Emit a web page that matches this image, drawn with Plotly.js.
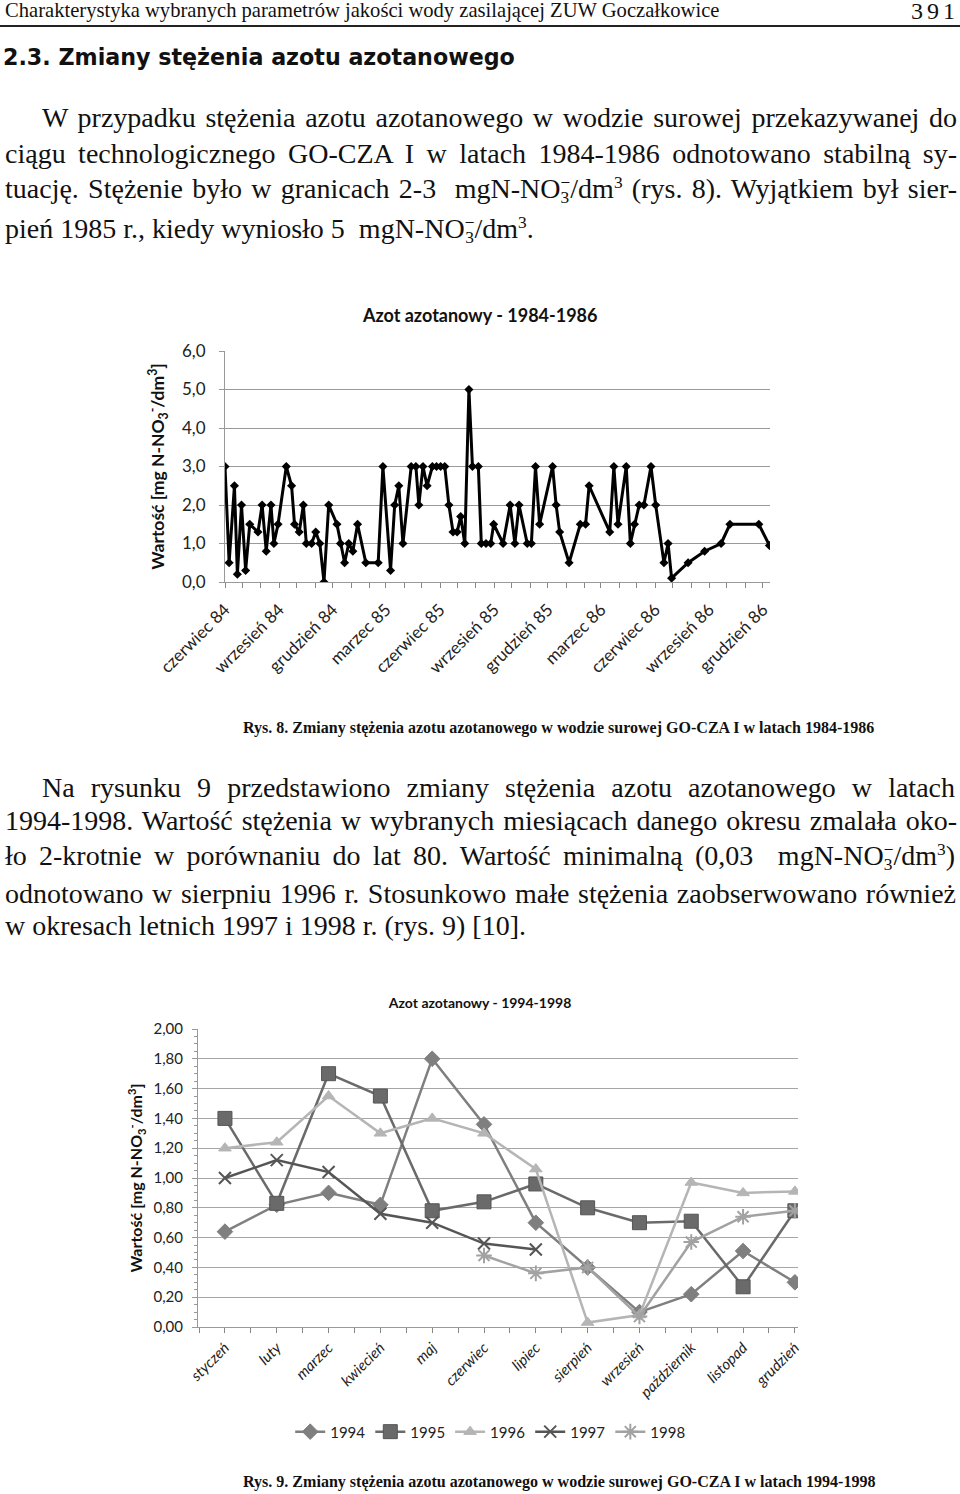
<!DOCTYPE html>
<html lang="pl">
<head>
<meta charset="utf-8">
<script src="https://cdn.plot.ly/plotly-3.0.1.min.js"></script>
<style>
  html, body { margin: 0; padding: 0; background: #fff; }
  body {
    width: 960px; height: 1494px; position: relative; overflow: hidden;
    font-family: "Liberation Serif", "Times New Roman", serif; color: #111;
  }
  .ln { position: absolute; top: 0; white-space: nowrap; line-height: 1; }
  .just { white-space: normal; text-align: justify; text-align-last: justify; }
  .txt { font-size: 28px; }
  .bl { display: inline-block; width: 0; height: 0; }
  .ion {
    display: inline-block; vertical-align: -0.3em; font-size: 0.62em;
    line-height: 0.85em; text-align: center;
  }
  sup { font-size: 0.62em; vertical-align: 0.55em; line-height: 0; }
  .cap { font-weight: bold; font-size: 16px; }
  .sect { font-family: "DejaVu Sans", sans-serif; font-weight: bold; font-size: 20px; }
  #rule { position: absolute; left: 0; top: 25px; width: 960px; height: 1.5px; background: #222; }
  .chart { position: absolute; }
</style>
</head>
<body>

<div class="ln" style="left:5px;font-size:18px" data-b="17" data-w="715"><i class="bl"></i>Charakterystyka wybranych parametrów jakości wody zasilającej ZUW Goczałkowice</div>
<div class="ln" style="right:1px;left:auto;font-size:24px;letter-spacing:4px" data-b="19"><i class="bl"></i>391</div>
<div id="rule"></div>

<div class="ln sect" style="left:3px" data-b="65" data-w="512"><i class="bl"></i>2.3. Zmiany stężenia azotu azotanowego</div>

<div class="ln txt just" style="left:42px;width:915px" data-b="127"><i class="bl"></i>W przypadku stężenia azotu azotanowego w wodzie surowej przekazywanej do</div>
<div class="ln txt just" style="left:5px;width:952px" data-b="163"><i class="bl"></i>ciągu technologicznego GO-CZA I w latach 1984-1986 odnotowano stabilną sy-</div>
<div class="ln txt just" style="left:5px;width:952px" data-b="198"><i class="bl"></i>tuację. Stężenie było w granicach 2-3&nbsp; mgN-NO<span class="ion">−<br>3</span>/dm<sup>3</sup> (rys. 8). Wyjątkiem był sier-</div>
<div class="ln txt" style="left:5px" data-b="238"><i class="bl"></i>pień 1985 r., kiedy wyniosło 5&nbsp; mgN-NO<span class="ion">−<br>3</span>/dm<sup>3</sup>.</div>

<div id="chart8486" class="chart" style="left:130px;top:295px;width:680px;height:410px"></div>

<div class="ln cap" style="left:243px" data-b="733" data-w="632"><i class="bl"></i>Rys. 8. Zmiany stężenia azotu azotanowego w wodzie surowej GO-CZA I w latach 1984-1986</div>

<div class="ln txt just" style="left:42px;width:913px" data-b="797"><i class="bl"></i>Na rysunku 9 przedstawiono zmiany stężenia azotu azotanowego w latach</div>
<div class="ln txt just" style="left:5px;width:952px" data-b="830"><i class="bl"></i>1994-1998. Wartość stężenia w wybranych miesiącach danego okresu zmalała oko-</div>
<div class="ln txt just" style="left:5px;width:950px" data-b="865"><i class="bl"></i>ło 2-krotnie w porównaniu do lat 80. Wartość minimalną (0,03&nbsp; mgN-NO<span class="ion">−<br>3</span>/dm<sup>3</sup>)</div>
<div class="ln txt just" style="left:5px;width:951px" data-b="903"><i class="bl"></i>odnotowano w sierpniu 1996 r. Stosunkowo małe stężenia zaobserwowano również</div>
<div class="ln txt" style="left:5px" data-b="935"><i class="bl"></i>w okresach letnich 1997 i 1998 r. (rys. 9) [10].</div>

<div id="chart9498" class="chart" style="left:110px;top:985px;width:720px;height:475px"></div>

<div class="ln cap" style="left:243px" data-b="1487" data-w="633"><i class="bl"></i>Rys. 9. Zmiany stężenia azotu azotanowego w wodzie surowej GO-CZA I w latach 1994-1998</div>

<script>
// --- rys. 8: pomiary 1984-1986 ---
const dates8486 = [
  '1984-06-01', '1984-06-08', '1984-06-17', '1984-06-22', '1984-06-29', '1984-07-06',
  '1984-07-13', '1984-07-27', '1984-08-03', '1984-08-10', '1984-08-18', '1984-08-23',
  '1984-08-30', '1984-09-13', '1984-09-22', '1984-09-27', '1984-10-05', '1984-10-12',
  '1984-10-17', '1984-10-26', '1984-11-02', '1984-11-09', '1984-11-16', '1984-11-24',
  '1984-12-08', '1984-12-14', '1984-12-21', '1984-12-28', '1985-01-04', '1985-01-12',
  '1985-01-26', '1985-02-16', '1985-02-24', '1985-03-09', '1985-03-16', '1985-03-23',
  '1985-03-30', '1985-04-13', '1985-04-21', '1985-04-26', '1985-05-03', '1985-05-10',
  '1985-05-19', '1985-05-26', '1985-06-02', '1985-06-09', '1985-06-16', '1985-06-23',
  '1985-06-30', '1985-07-06', '1985-07-13', '1985-07-20', '1985-07-26', '1985-08-05',
  '1985-08-10', '1985-08-18', '1985-08-26', '1985-08-31', '1985-09-16', '1985-09-28',
  '1985-10-06', '1985-10-13', '1985-10-27', '1985-11-03', '1985-11-10', '1985-11-17',
  '1985-12-09', '1985-12-15', '1985-12-21', '1986-01-06', '1986-01-25', '1986-02-03',
  '1986-02-09', '1986-03-16', '1986-03-23', '1986-03-30', '1986-04-13', '1986-04-20',
  '1986-04-27', '1986-05-05', '1986-05-13', '1986-05-25', '1986-06-02', '1986-06-16',
  '1986-06-23', '1986-06-29', '1986-07-27', '1986-08-24', '1986-09-21', '1986-10-06',
  '1986-11-24', '1986-12-12'
];
const no3_8486 = [
  3.0, 0.5, 2.5, 0.2, 2.0, 0.3,
  1.5, 1.3, 2.0, 0.8, 2.0, 1.0,
  1.5, 3.0, 2.5, 1.5, 1.3, 2.0,
  1.0, 1.0, 1.3, 1.0, 0.0, 2.0,
  1.5, 1.0, 0.5, 1.0, 0.8, 1.5,
  0.5, 0.5, 3.0, 0.3, 2.0, 2.5,
  1.0, 3.0, 3.0, 2.0, 3.0, 2.5,
  3.0, 3.0, 3.0, 3.0, 2.0, 1.3,
  1.3, 1.7, 1.0, 5.0, 3.0, 3.0,
  1.0, 1.0, 1.0, 1.5, 1.0, 2.0,
  1.0, 2.0, 1.0, 1.0, 3.0, 1.5,
  3.0, 2.0, 1.3, 0.5, 1.5, 1.5,
  2.5, 1.3, 3.0, 1.5, 3.0, 1.0,
  1.5, 2.0, 2.0, 3.0, 2.0, 0.5,
  1.0, 0.1, 0.5, 0.8, 1.0, 1.5,
  1.5, 0.95
];
const tickDates8486 = [
  '1984-06-01', '1984-09-01', '1984-12-01', '1985-03-01', '1985-06-01', '1985-09-01',
  '1985-12-01', '1986-03-01', '1986-06-01', '1986-09-01', '1986-12-01'
];
const tickNames8486 = [
  'czerwiec 84', 'wrzesień 84', 'grudzień 84', 'marzec 85', 'czerwiec 85', 'wrzesień 85',
  'grudzień 85', 'marzec 86', 'czerwiec 86', 'wrzesień 86', 'grudzień 86'
];

// --- rys. 9: średnie miesięczne 1994-1998 ---
const months = ['styczeń', 'luty', 'marzec', 'kwiecień', 'maj', 'czerwiec', 'lipiec',
  'sierpień', 'wrzesień', 'październik', 'listopad', 'grudzień'];
const years = ['1994', '1995', '1996', '1997', '1998'];
const y1994 = [0.64, 0.82, 0.90, 0.82, 1.80, 1.36, 0.70, 0.40, 0.10, 0.22, 0.51, 0.30];
const y1995 = [1.40, 0.83, 1.70, 1.55, 0.78, 0.84, 0.96, 0.80, 0.70, 0.71, 0.27, 0.78];
const y1996 = [1.20, 1.24, 1.55, 1.30, 1.40, 1.30, 1.06, 0.03, 0.08, 0.97, 0.90, 0.91];
const y1997 = [1.00, 1.12, 1.04, 0.76, 0.70, 0.56, 0.52, null, null, null, null, null];
const y1998 = [null, null, null, null, null, 0.48, 0.36, 0.40, 0.07, 0.57, 0.74, 0.78];

const yTitle = '<b>Wartość [mg N-NO<sub>3</sub><sup>-</sup>/dm<sup>3</sup>]</b>';
const chartFont = 'Lato, "Open Sans", sans-serif';

function drawChart8486() {
  const trace = {
    x: dates8486,
    y: no3_8486,
    type: 'scatter',
    mode: 'lines+markers',
    line: { color: '#000', width: 3 },
    marker: { symbol: 'diamond', size: 7, color: '#000' },
    showlegend: false,
  };
  const layout = {
    width: 680,
    height: 410,
    margin: { l: 95, r: 40, t: 56, b: 123 },
    paper_bgcolor: '#fff',
    plot_bgcolor: '#fff',
    separators: ', ',
    font: { family: chartFont, color: '#222', size: 15 },
    title: {
      text: '<b>Azot azotanowy - 1984-1986</b>',
      font: { size: 18, color: '#111' },
      x: 0.515, xref: 'container', xanchor: 'center',
      y: 0.949, yref: 'container', yanchor: 'middle',
    },
    xaxis: {
      type: 'date',
      range: ['1984-06-01', '1986-12-13'],
      tickmode: 'array',
      tickvals: tickDates8486,
      ticktext: tickNames8486,
      tickangle: -45,
      ticks: 'outside',
      ticklen: 5,
      tickcolor: '#888',
      ticklabelstandoff: 5,
      tickfont: { size: 17 },
      showgrid: false,
      showline: true,
      linecolor: '#999',
      zeroline: false,
      minor: { dtick: 'M1', tick0: '1984-06-01', ticks: 'outside', ticklen: 5, tickcolor: '#888', showgrid: false },
    },
    yaxis: {
      range: [0, 6],
      dtick: 1,
      tickformat: '.1f',
      ticks: 'outside',
      ticklen: 5,
      tickcolor: '#999',
      ticklabelstandoff: 10,
      tickfont: { size: 17 },
      showgrid: true,
      gridcolor: '#9a9a9a',
      showline: true,
      linecolor: '#999',
      zeroline: false,
      title: { text: yTitle, font: { size: 17.5, color: '#111' }, standoff: 12 },
    },
  };
  Plotly.newPlot('chart8486', [trace], layout, { staticPlot: true, displayModeBar: false });
}

function drawChart9498() {
  const series = [y1994, y1995, y1996, y1997, y1998];
  const colors = ['#7f7f7f', '#6a6a6a', '#b5b5b5', '#555555', '#a2a2a2'];
  const symbols = ['diamond', 'square', 'triangle-up', 'x-thin', 'asterisk'];
  const sizes = [12, 14, 11, 12, 13];
  const xs = months.map((m, i) => i);

  const traces = series.map((ys, k) => ({
    x: xs,
    y: ys,
    name: years[k],
    type: 'scatter',
    mode: 'lines+markers',
    line: { color: colors[k], width: 2.5 },
    marker: {
      symbol: symbols[k],
      size: sizes[k],
      color: colors[k],
      line: { color: k === 1 ? '#555' : colors[k], width: (k >= 3) ? 2 : 1 },
    },
  }));

  const layout = {
    width: 720,
    height: 475,
    margin: { l: 88, r: 32, t: 44, b: 133 },
    paper_bgcolor: '#fff',
    plot_bgcolor: '#fff',
    separators: ', ',
    font: { family: chartFont, color: '#222', size: 14 },
    title: {
      text: '<b>Azot azotanowy - 1994-1998</b>',
      font: { size: 14, color: '#111' },
      x: 0.514, xref: 'container', xanchor: 'center',
      y: 0.962, yref: 'container', yanchor: 'middle',
    },
    showlegend: true,
    legend: {
      orientation: 'h',
      x: 0.487, xanchor: 'center',
      y: -0.352, yanchor: 'middle',
      font: { size: 15 },
      itemwidth: 30,
      tracegroupgap: 0,
    },
    xaxis: {
      range: [-0.52, 11.06],
      tickmode: 'array',
      tickvals: xs,
      ticktext: months,
      tickangle: -45,
      ticks: 'outside',
      ticklen: 5,
      tickcolor: '#888',
      tickfont: { size: 15, style: 'italic' },
      showgrid: false,
      showline: true,
      linecolor: '#999',
      zeroline: false,
      minor: { dtick: 0.5, tick0: -0.5, ticks: 'outside', ticklen: 5, tickcolor: '#888', showgrid: false },
    },
    yaxis: {
      range: [0, 2],
      dtick: 0.2,
      tickformat: '.2f',
      ticks: 'outside',
      ticklen: 5,
      tickcolor: '#999',
      ticklabelstandoff: 6,
      tickfont: { size: 15 },
      showgrid: true,
      gridcolor: '#a6a6a6',
      showline: true,
      linecolor: '#999',
      zeroline: false,
      minor: { dtick: 0.05, ticks: 'outside', ticklen: 3, tickcolor: '#999', showgrid: false },
      title: { text: yTitle, font: { size: 16, color: '#111' }, standoff: 6 },
    },
  };
  Plotly.newPlot('chart9498', traces, layout, { staticPlot: true, displayModeBar: false });
}

// fit widths of single text lines and move each one onto its baseline
function placeLines() {
  document.querySelectorAll('.ln').forEach(el => {
    if (el.dataset.w) {
      const fs = parseFloat(getComputedStyle(el).fontSize);
      const w = el.getBoundingClientRect().width;
      el.style.fontSize = (fs * Number(el.dataset.w) / w) + 'px';
    }
    const mark = el.querySelector('.bl');
    const b = mark.getBoundingClientRect().bottom;
    const top = parseFloat(el.style.top || '0');
    el.style.top = (top + Number(el.dataset.b) - b) + 'px';
  });
}

placeLines();
drawChart8486();
drawChart9498();
</script>
</body>
</html>
